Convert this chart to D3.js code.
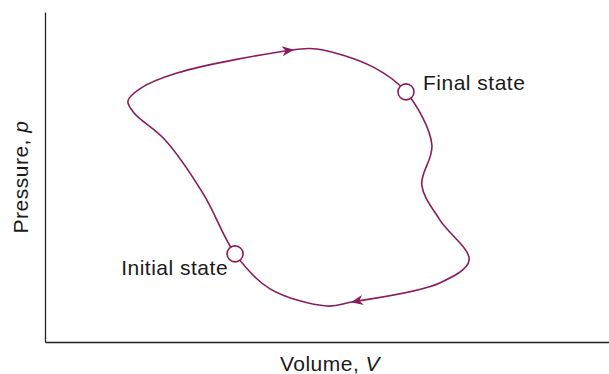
<!DOCTYPE html>
<html>
<head>
<meta charset="utf-8">
<script src="https://cdn.jsdelivr.net/npm/d3@7"></script>
<style>
  body { margin: 0; background: #fff; }
  svg { display: block; }
  text { font-family: "Liberation Sans", Arial, sans-serif; fill: #1a1a1a; letter-spacing: 0.5px; }
</style>
</head>
<body>
<svg id="chart" width="609" height="374"></svg>
<script>
"use strict";

// closed cycle in the p-V plane, in traversal order (starts at initial state)
const volume = [3.37, 2.82, 2.13, 1.58, 1.47, 1.68, 2.34, 4.40, 4.82, 5.82, 6.40, 6.86, 6.68, 7.00, 7.52, 7.00, 5.44, 5.00, 3.99];
const pressure = [2.67, 4.45, 6.12, 6.94, 7.30, 7.67, 8.15, 8.85, 8.88, 8.33, 7.58, 5.97, 4.76, 3.70, 2.48, 1.79, 1.21, 1.09, 1.61];

const states = [
  { name: "Initial state", V: 3.37, p: 2.67, side: "left" },
  { name: "Final state", V: 6.40, p: 7.58, side: "right" },
];

// where the direction arrows sit
const arrowV = [4.40, 5.44];
const arrowP = [8.85, 1.21];

const color = "#8a1c5c";

const svg = d3.select("#chart");
const width = +svg.attr("width");
const height = +svg.attr("height");
const margin = { left: 45, right: 0, top: 12, bottom: 32 };

const x = d3.scaleLinear().domain([0, 10]).range([margin.left, width - margin.right]);
const y = d3.scaleLinear().domain([0, 10]).range([height - margin.bottom, margin.top]);

// axes (no ticks)
svg.append("g")
  .attr("transform", `translate(0,${y(0)})`)
  .call(d3.axisBottom(x).ticks(0).tickSizeOuter(0))
  .call((g) => g.select(".domain").attr("stroke", "#222").attr("stroke-width", 1.3));

svg.append("g")
  .attr("transform", `translate(${x(0)},0)`)
  .call(d3.axisLeft(y).ticks(0).tickSizeOuter(0))
  .call((g) => g.select(".domain").attr("stroke", "#222").attr("stroke-width", 1.3));

svg.append("text")
  .attr("x", (x(0) + x(10)) / 2 + 3)
  .attr("y", height - 3)
  .attr("text-anchor", "middle")
  .style("font-size", "21px")
  .html('Volume, <tspan font-style="italic">V</tspan>');

svg.append("text")
  .attr("transform", `translate(28,${(y(0) + y(10)) / 2}) rotate(-90)`)
  .attr("text-anchor", "middle")
  .style("font-size", "21px")
  .html('Pressure, <tspan font-style="italic">p</tspan>');

// the cycle
const pts = volume.map((v, i) => [v, pressure[i]]);
const line = d3.line()
  .x((d) => x(d[0]))
  .y((d) => y(d[1]))
  .curve(d3.curveCatmullRomClosed.alpha(0.5));

const path = svg.append("path")
  .datum(pts)
  .attr("d", line)
  .attr("fill", "none")
  .attr("stroke", color)
  .attr("stroke-width", 1.6);

// arrows: find nearest spot on the path and orient along it
const node = path.node();
const total = node.getTotalLength();
arrowV.forEach((v, i) => {
  const tx = x(v), ty = y(arrowP[i]);
  let best = 0, bestD = Infinity;
  for (let s = 0; s <= total; s += 0.5) {
    const q = node.getPointAtLength(s);
    const d = (q.x - tx) ** 2 + (q.y - ty) ** 2;
    if (d < bestD) { bestD = d; best = s; }
  }
  const a = node.getPointAtLength(Math.max(best - 1.5, 0));
  const b = node.getPointAtLength(Math.min(best + 1.5, total));
  const ang = Math.atan2(b.y - a.y, b.x - a.x) * 180 / Math.PI;
  const tip = node.getPointAtLength(best);
  svg.append("path")
    .attr("d", "M1,0 L-11,-5 L-7.5,0 L-11,5 Z")
    .attr("fill", color)
    .attr("transform", `translate(${tip.x},${tip.y}) rotate(${ang})`);
});

// state markers
svg.selectAll("circle.state")
  .data(states)
  .join("circle")
  .attr("class", "state")
  .attr("cx", (d) => x(d.V))
  .attr("cy", (d) => y(d.p))
  .attr("r", 8)
  .attr("fill", "#fff")
  .attr("stroke", color)
  .attr("stroke-width", 1.6);

svg.selectAll("text.state")
  .data(states)
  .join("text")
  .attr("class", "state")
  .attr("x", (d) => x(d.V) + (d.side === "left" ? -7 : 17))
  .attr("y", (d) => y(d.p) + (d.side === "left" ? 21 : -2))
  .attr("text-anchor", (d) => (d.side === "left" ? "end" : "start"))
  .style("font-size", "21px")
  .text((d) => d.name);
</script>
</body>
</html>
